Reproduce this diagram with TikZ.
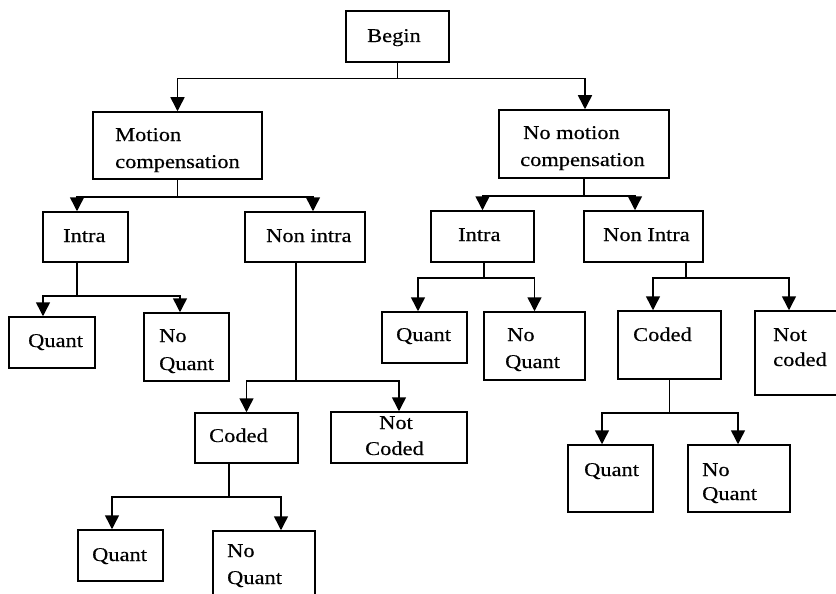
\documentclass[tikz,border=0pt]{standalone}
\usepackage{fontspec}
\setmainfont[FakeStretch=1.15,FakeBold=0.4]{Liberation Serif}
\usetikzlibrary{arrows.meta}
\begin{document}
\begin{tikzpicture}[x=1pt,y=-1pt,
  box/.style={draw=black,line width=1.5pt,rectangle,inner sep=0pt},
  lbl/.style={anchor=base west,inner sep=0pt,font=\fontsize{19.5}{23}\selectfont},
  arr/.style={line width=1.5pt,-{Triangle[width=14pt,length=14pt]}}]
\useasboundingbox (0,0) rectangle (836,594);
% boxes: centre (x,y), width, height
\newcommand\mkbox[5]{\node[box,minimum width=#4pt,minimum height=#5pt] (#1) at (#2,#3) {};}
\mkbox{begin}{397.5}{36.5}{103}{51}
\mkbox{mc}{177.5}{145.5}{169}{67}
\mkbox{nmc}{584}{144}{170}{68}
\mkbox{intraL}{85.5}{237}{85}{50}
\mkbox{nonintraL}{305}{237}{120}{50}
\mkbox{intraR}{482.5}{236.5}{103}{51}
\mkbox{nonintraR}{643.5}{236.5}{119}{51}
\mkbox{quantL}{52}{342.5}{86}{51}
\mkbox{noquantL}{186.5}{347}{85}{68}
\mkbox{quantRm}{424.5}{337.5}{85}{51}
\mkbox{noquantRm}{534.5}{346}{101}{68}
\mkbox{codedR}{669.5}{345}{103}{68}
\mkbox{notcodedR}{802.5}{353}{95}{84}
\mkbox{codedM}{246.5}{438}{103}{50}
\mkbox{notcodedM}{399}{437.5}{136}{51}
\mkbox{quantB}{120.5}{555.5}{85}{51}
\mkbox{noquantB}{264}{570.5}{102}{79}
\mkbox{quantBR}{610.5}{478.5}{85}{67}
\mkbox{noquantBR}{739}{478.5}{102}{67}
% labels
\node[lbl] (tBegin) at (367,42) {Begin};
\node[lbl] (tMc1) at (115,141) {Motion};
\node[lbl] (tMc2) at (115,168) {compensation};
\node[lbl] (tNmc1) at (523,139) {No motion};
\node[lbl] (tNmc2) at (520,166) {compensation};
\node[lbl] (tIntraL) at (63,242) {Intra};
\node[lbl] (tNonintraL) at (266,242) {Non intra};
\node[lbl] (tIntraR) at (458,241) {Intra};
\node[lbl] (tNonintraR) at (603,241) {Non Intra};
\node[lbl] (tQuantL) at (28,347) {Quant};
\node[lbl] (tNoquantL1) at (159,342) {No};
\node[lbl] (tNoquantL2) at (159,370) {Quant};
\node[lbl] (tQuantRm) at (396,341) {Quant};
\node[lbl] (tNoquantRm1) at (507,341) {No};
\node[lbl] (tNoquantRm2) at (505,368) {Quant};
\node[lbl] (tCodedR) at (633,341) {Coded};
\node[lbl] (tNotcodedR1) at (773,341) {Not};
\node[lbl] (tNotcodedR2) at (773,366) {coded};
\node[lbl] (tCodedM) at (209,442) {Coded};
\node[lbl] (tNotcodedM1) at (379,429) {Not};
\node[lbl] (tNotcodedM2) at (365,455) {Coded};
\node[lbl] (tQuantB) at (92,561) {Quant};
\node[lbl] (tNoquantB1) at (227,557) {No};
\node[lbl] (tNoquantB2) at (227,584) {Quant};
\node[lbl] (tQuantBR) at (584,476) {Quant};
\node[lbl] (tNoquantBR1) at (702,476) {No};
\node[lbl] (tNoquantBR2) at (702,500) {Quant};
% connectors: stem down from the parent, along the bus, down into the child
\draw[arr] (begin.south) -- ++(0,16) -| (mc.north);
\draw[arr] (begin.south) -- ++(0,16) -| ([xshift=1pt]nmc.north);
\draw[arr] (mc.south) -- ++(0,17) -| ([xshift=-8.5pt]intraL.north);
\draw[arr] (mc.south) -- ++(0,17) -| ([xshift=8pt]nonintraL.north);
\draw[arr] (nmc.south) -- ++(0,17) -| (intraR.north);
\draw[arr] (nmc.south) -- ++(0,17) -| ([xshift=-8.5pt]nonintraR.north);
\draw[arr] ([xshift=-8.5pt]intraL.south) -- ++(0,33) -| ([xshift=-9pt]quantL.north);
\draw[arr] ([xshift=-8.5pt]intraL.south) -- ++(0,33) -| ([xshift=-6.5pt]noquantL.north);
\draw[arr] ([xshift=-9pt]nonintraL.south) -- ++(0,118) -| (codedM.north);
\draw[arr] ([xshift=-9pt]nonintraL.south) -- ++(0,118) -| (notcodedM.north);
\draw[arr] ([xshift=1.5pt]intraR.south) -- ++(0,15) -| ([xshift=-6.5pt]quantRm.north);
\draw[arr] ([xshift=1.5pt]intraR.south) -- ++(0,15) -| (noquantRm.north);
\draw[arr] ([xshift=42.5pt]nonintraR.south) -- ++(0,15) -| ([xshift=-16.5pt]codedR.north);
\draw[arr] ([xshift=42.5pt]nonintraR.south) -- ++(0,15) -| ([xshift=-13.5pt]notcodedR.north);
\draw[arr] ([xshift=-17.5pt]codedM.south) -- ++(0,33) -| ([xshift=-8.5pt]quantB.north);
\draw[arr] ([xshift=-17.5pt]codedM.south) -- ++(0,33) -| ([xshift=17pt]noquantB.north);
\draw[arr] (codedR.south) -- ++(0,33) -| ([xshift=-8.5pt]quantBR.north);
\draw[arr] (codedR.south) -- ++(0,33) -| ([xshift=-1pt]noquantBR.north);
\end{tikzpicture}
\end{document}
